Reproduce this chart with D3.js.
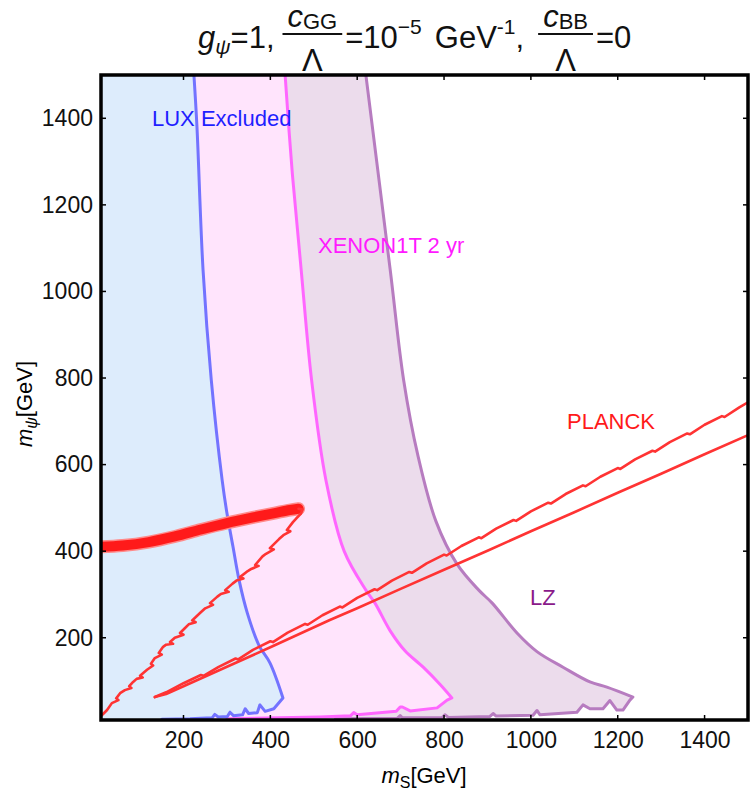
<!DOCTYPE html>
<html><head><meta charset="utf-8">
<script src="https://cdn.jsdelivr.net/npm/d3@7"></script>
<style>body{margin:0;background:#fff} text{font-family:"Liberation Sans",Arial,sans-serif}</style>
</head><body><svg id="c" width="750" height="794"></svg>
<script>
// ---- data (GeV) ----
const xDomain = [10, 1500];
const yDomain = [10, 1500];
const xTicks = [200, 400, 600, 800, 1000, 1200, 1400];
const yTicks = [200, 400, 600, 800, 1000, 1200, 1400];

// exclusion boundaries: smooth upper part + jagged low-mass part
const luxUpper = [[224,1500],[231,1380],[245,1050],[264,795],[289,564],[300,488],[314,410],[328,333],[347,257],[374,182],[399,142],[429,61]];
const luxLow = [[429,61],[408,36],[388,30],[376,45],[370,27],[350,25],[342,36],[336,22],[315,20],[307,28],[301,18],[280,17],[272,23],[266,15],[240,14],[215,13],[150,12]];
const xenonUpper = [[434,1500],[450,1280],[471,1050],[495,795],[528,564],[570,400],[620,310],[641,280],[676,216],[710,170],[752,132],[791,92],[818,61]];
const xenonLow = [[818,61],[807,56],[784,38],[722,31],[704,40],[699,40],[690,30],[600,22],[592,27],[585,20],[514,17],[420,15],[300,13]];
const lzUpper = [[620,1500],[676,1050],[707,795],[740,620],[781,470],[830,370],[880,310],[911,280],[968,211],[1014,168],[1074,132],[1136,98],[1175,86],[1235,63]];
const lzLow = [[1235,63],[1228,56],[1212,33],[1198,33],[1182,55],[1166,36],[1136,36],[1120,45],[1106,28],[1021,22],[1014,32],[1005,21],[920,19],[913,25],[905,18],[810,16],[802,22],[795,15],[704,15],[699,20],[692,14],[550,13]];

const planckBand = [[10,410],[60,413],[120,421],[180,434],[240,450],[300,465],[360,478],[410,488],[445,495],[465,498]];
const planckHook = [[465,498],[474,496],[470,486],[460,476],[452,467],[438,449],[446,446],[430,437],[420,428],[399,407],[408,404],[390,394],[382,388],[365,368],[373,366],[356,359],[348,354],[330,340],[338,337],[322,332],[313,325],[296,310],[304,306],[286,301],[278,295],[261,280],[268,276],[250,268],[238,257],[220,240],[228,236],[212,231],[203,222],[192,211],[200,207],[180,200],[169,190],[176,186],[160,184],[153,179],[143,165],[150,161],[134,153],[125,140],[130,136],[116,126],[108,119],[100,112],[106,108],[92,105],[84,98],[75,88],[80,84],[65,79],[54,72],[45,60],[50,56],[35,49],[24,33],[16,25],[10,19]];
const planckUpper = [[134,63],[160,74],[200,95],[240,114],[246,112],[280,132],[320,152],[326,150],[360,172],[400,192],[406,190],[440,212],[480,232],[486,230],[520,252],[560,272],[566,270],[600,292],[640,312],[646,310],[680,332],[720,352],[726,350],[760,372],[800,392],[806,390],[840,412],[880,432],[886,430],[920,452],[960,472],[966,470],[1000,492],[1040,512],[1046,510],[1080,532],[1120,552],[1126,550],[1160,572],[1200,592],[1206,590],[1240,612],[1280,632],[1286,630],[1320,652],[1360,672],[1366,670],[1400,692],[1440,712],[1446,710],[1480,732],[1500,744]];
const planckLower = [[134,63],[160,70],[200,88],[300,133],[400,178],[537,241],[600,268],[700,313],[800,357],[900,401],[1000,446],[1100,490],[1200,535],[1300,579],[1400,624],[1500,668]];

// ---- layout ----
const L = 101, R = 748, T = 75, B = 720;
const svg = d3.select("#c");
const x = d3.scaleLinear().domain(xDomain).range([L, R]);
const y = d3.scaleLinear().domain(yDomain).range([B, T]);
const lineLin = d3.line().x(d => x(d[0])).y(d => y(d[1]));
const lineSmooth = d3.line().x(d => x(d[0])).y(d => y(d[1])).curve(d3.curveCatmullRom.alpha(0.5));

svg.append("clipPath").attr("id","clip").append("rect").attr("x",L).attr("y",T).attr("width",R-L).attr("height",B-T);
const plot = svg.append("g").attr("clip-path","url(#clip)");

function boundaryPath(up, low) {
  return lineSmooth(up) + lineLin(low).replace(/^M/, "L");
}
function region(up, low, fill) {
  const d = boundaryPath(up, low);
  const closing = "L" + x(xDomain[0]-5) + "," + y(low[low.length-1][1]) + "L" + x(xDomain[0]-5) + "," + (B+5) + "L" + x(xDomain[0]-5) + "," + (T-5) + "L" + x(up[0][0]) + "," + (T-5) + "Z";
  plot.append("path").attr("d", d + closing).attr("fill", fill);
  return d;
}
const dLZ = region(lzUpper, lzLow, "#ecdcec");
const dXE = region(xenonUpper, xenonLow, "#ffe4fc");
const dLU = region(luxUpper, luxLow, "#ddecfc");

function strokeD(d, color, w) {
  plot.append("path").attr("d", d).attr("fill","none").attr("stroke",color)
    .attr("stroke-width",w).attr("stroke-linejoin","round").attr("stroke-linecap","round");
}
strokeD(dLZ, "#b77cc0", 3);
strokeD(dXE, "#ff66ff", 3);
strokeD(dLU, "#7373ff", 3);

// PLANCK
strokeD(lineSmooth(planckBand), "#ff8a8a", 13);
strokeD(lineSmooth(planckBand), "#ff1a1a", 10);
strokeD(lineLin(planckHook), "#ff3333", 2.6);
strokeD(lineLin(planckUpper), "#ff3333", 2.6);
strokeD(lineLin(planckLower), "#ff3333", 2.6);

// region labels
plot.append("text").attr("x",152).attr("y",126).attr("font-size",22).attr("fill","#1f1fff").text("LUX Excluded");
plot.append("text").attr("x",318).attr("y",253).attr("font-size",22).attr("fill","#ff1aff").text("XENON1T 2 yr");
plot.append("text").attr("x",567).attr("y",429).attr("font-size",22).attr("fill","#ff1a1a").text("PLANCK");
plot.append("text").attr("x",530).attr("y",605).attr("font-size",22).attr("fill","#8a1a8a").text("LZ");

// frame ticks
const tk = svg.append("g").attr("stroke","#000").attr("stroke-width",1.5);
xTicks.forEach(v => {
  tk.append("line").attr("x1",x(v)).attr("x2",x(v)).attr("y1",B).attr("y2",B-5);
  tk.append("line").attr("x1",x(v)).attr("x2",x(v)).attr("y1",T).attr("y2",T+5);
});
yTicks.forEach(v => {
  tk.append("line").attr("x1",L).attr("x2",L+5).attr("y1",y(v)).attr("y2",y(v));
  tk.append("line").attr("x1",R).attr("x2",R-5).attr("y1",y(v)).attr("y2",y(v));
});
svg.append("rect").attr("x",L).attr("y",T).attr("width",R-L).attr("height",B-T)
  .attr("fill","none").attr("stroke","#000").attr("stroke-width",3.5);

// tick labels
const fmt = d3.format("d");
const xAxis = d3.axisBottom(x).tickValues(xTicks).tickFormat(fmt).tickSize(0).tickPadding(12);
const gx = svg.append("g").attr("transform",`translate(0,${B})`).call(xAxis);
gx.select(".domain").remove();
gx.selectAll("text").attr("font-size",23).attr("fill","#111").style("font-family","'Liberation Sans',Arial,sans-serif");
const yAxis = d3.axisLeft(y).tickValues(yTicks).tickFormat(fmt).tickSize(0).tickPadding(8);
const gy = svg.append("g").attr("transform",`translate(${L},0)`).call(yAxis);
gy.select(".domain").remove();
gy.selectAll("text").attr("font-size",23).attr("fill","#111").style("font-family","'Liberation Sans',Arial,sans-serif");

// axis titles
const xt = svg.append("text").attr("x",424).attr("y",783).attr("text-anchor","middle").attr("font-size",22);
xt.append("tspan").style("font-style","italic").text("m");
xt.append("tspan").attr("font-size",16).attr("dy",5).text("S");
xt.append("tspan").attr("dy",-5).text("[GeV]");
const yt = svg.append("text").attr("transform","translate(32,404) rotate(-90)").attr("text-anchor","middle").attr("font-size",22);
yt.append("tspan").style("font-style","italic").text("m");
yt.append("tspan").attr("font-size",16).attr("dy",5).style("font-style","italic").text("ψ");
yt.append("tspan").attr("dy",-5).text("[GeV]");

// title
const TT = svg.append("g").attr("fill","#111");
let cx = 198; const base = 48, fs = 31;
function put(str, o={}) {
  const t = TT.append("text").attr("x", cx).attr("y", o.y||base).attr("font-size", o.fs||fs)
    .style("font-style", o.it?"italic":"normal").text(str);
  const w = t.node().getComputedTextLength();
  cx += w + (o.dx||0);
  return w;
}
function frac(sub) {
  const x0 = cx;
  const g = TT.append("text").attr("y",27).attr("font-size",fs);
  g.append("tspan").style("font-style","italic").text("c");
  g.append("tspan").attr("font-size",22).attr("dy",2).text(sub);
  const wn = g.node().getComputedTextLength();
  const wb = wn + 10;
  g.attr("x", x0 + (wb-wn)/2);
  TT.append("line").attr("x1",x0).attr("x2",x0+wb).attr("y1",34).attr("y2",34).attr("stroke","#111").attr("stroke-width",1.8);
  TT.append("text").attr("y",71).attr("font-size",fs).attr("text-anchor","middle").attr("x",x0+wb/2).text("Λ");
  cx = x0 + wb + 3;
}
put("g",{it:true});
put("ψ",{it:true, fs:21, y:base+6});
put("=1,", {dx:8});
frac("GG");
put("=10");
put("−5",{fs:21, y:base-14, dx:13});
put("GeV");
put("-1",{fs:21, y:base-14});
put(",", {dx:14});
frac("BB");
put("=0");
</script></body></html>
